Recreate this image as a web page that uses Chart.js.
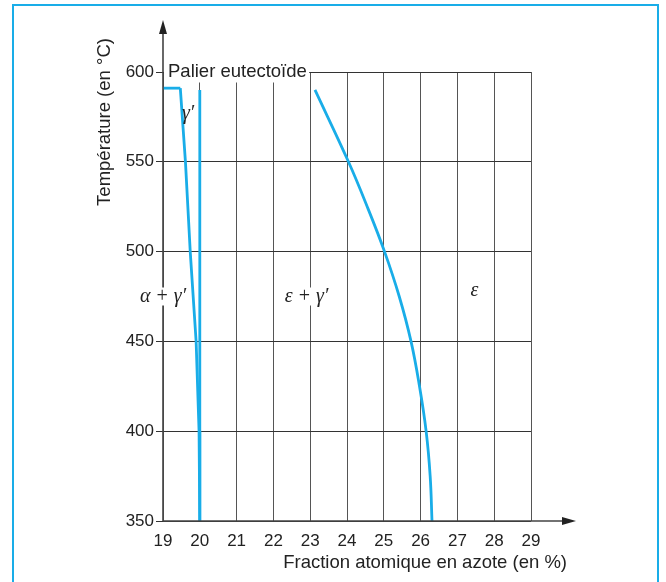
<!DOCTYPE html>
<html>
<head>
<meta charset="utf-8">
<script src="https://cdn.jsdelivr.net/npm/chart.js@4/dist/chart.umd.min.js"></script>
<style>
  html, body { margin: 0; padding: 0; background: #fff; }
  #wrap { position: relative; width: 666px; height: 582px; }
</style>
</head>
<body>
<div id="wrap"><canvas id="chart"></canvas></div>
<script>
// phase boundaries: x = fraction atomique N (%), y = temperature (°C)
const plateauX = [19, 19.47];
const plateauY = [591, 591];

const gammaLeftX = [19.47, 19.61, 19.74, 19.90, 19.98, 20.0];
const gammaLeftY = [591, 550, 500, 450, 400, 350];

const gammaRightX = [20.0, 20.0];
const gammaRightY = [590, 350];

const epsX = [23.13, 24.04, 24.55, 25.02, 25.42, 25.74, 25.97, 26.15, 26.26, 26.31];
const epsY = [590, 550, 525, 500, 475, 450, 425, 400, 375, 350];

const xTicks = [19, 20, 21, 22, 23, 24, 25, 26, 27, 28, 29];
const yTicks = [350, 400, 450, 500, 550, 600];

const BLUE = "#19ade8";
const SANS = '"Liberation Sans", Arial, sans-serif';

function pts(xs, ys) {
    return xs.map((x, i) => ({ x: x, y: ys[i] }));
}

function line(xs, ys, tension) {
    return {
        data: pts(xs, ys),
        showLine: true,
        borderColor: BLUE,
        borderWidth: 2.8,
        pointRadius: 0,
        tension: tension || 0,
        fill: false
    };
}

// region labels (data coords)
const regionLabels = [
    { text: "γ′", x: 19.68, y: 577, bg: false },
    { text: "α + γ′", x: 19.0, y: 475, bg: true },
    { text: "ε + γ′", x: 22.9, y: 475, bg: true },
    { text: "ε", x: 27.46, y: 478, bg: false }
];

const decor = {
    id: "decor",
    beforeDatasetsDraw(chart) {
        const ctx = chart.ctx;
        const a = chart.chartArea;
        const xs = chart.scales.x;
        // white box behind "Palier eutectoïde"
        ctx.save();
        ctx.fillStyle = "#fff";
        const x23 = xs.getPixelForValue(23);
        ctx.fillRect(a.left + 1, a.top - 14, x23 - a.left - 2, 24.5);
        ctx.fillStyle = "#222";
        ctx.font = "18.5px " + SANS;
        ctx.textBaseline = "middle";
        ctx.textAlign = "left";
        ctx.fillText("Palier eutectoïde", a.left + 5, a.top);
        ctx.restore();
    },
    afterDraw(chart) {
        const ctx = chart.ctx;
        const a = chart.chartArea;
        const xs = chart.scales.x;
        const ys = chart.scales.y;
        ctx.save();

        // frame
        ctx.strokeStyle = BLUE;
        ctx.lineWidth = 2;
        ctx.beginPath();
        ctx.moveTo(13, 600);
        ctx.lineTo(13, 5);
        ctx.lineTo(658, 5);
        ctx.lineTo(658, 600);
        ctx.stroke();

        // axes with arrows
        ctx.strokeStyle = "#444";
        ctx.fillStyle = "#222";
        ctx.lineWidth = 1.6;
        ctx.beginPath();
        ctx.moveTo(a.left, a.bottom);
        ctx.lineTo(a.left, 30);
        ctx.moveTo(a.left, a.bottom);
        ctx.lineTo(566, a.bottom);
        ctx.stroke();
        ctx.beginPath();
        ctx.moveTo(a.left, 20);
        ctx.lineTo(a.left - 4, 34);
        ctx.lineTo(a.left + 4, 34);
        ctx.closePath();
        ctx.fill();
        ctx.beginPath();
        ctx.moveTo(576, a.bottom);
        ctx.lineTo(562, a.bottom - 4);
        ctx.lineTo(562, a.bottom + 4);
        ctx.closePath();
        ctx.fill();

        // axis titles
        ctx.fillStyle = "#222";
        ctx.font = "18.5px " + SANS;
        ctx.textAlign = "right";
        ctx.textBaseline = "middle";
        ctx.fillText("Fraction atomique en azote (en %)", 567, 563);
        ctx.save();
        ctx.translate(105, 122);
        ctx.rotate(-Math.PI / 2);
        ctx.textAlign = "center";
        ctx.fillText("Température (en °C)", 0, 0);
        ctx.restore();

        // region labels
        ctx.font = 'italic 20px "Liberation Serif", "DejaVu Serif", serif';
        ctx.textAlign = "center";
        ctx.textBaseline = "middle";
        regionLabels.forEach(l => {
            const px = xs.getPixelForValue(l.x);
            const py = ys.getPixelForValue(l.y);
            if (l.bg) {
                const w = ctx.measureText(l.text).width;
                ctx.fillStyle = "#fff";
                ctx.fillRect(px - w / 2 - 2, py - 9, w + 4, 18);
            }
            ctx.fillStyle = "#222";
            ctx.fillText(l.text, px, py);
        });
        ctx.restore();
    }
};

new Chart(document.getElementById("chart"), {
    type: "scatter",
    data: {
        datasets: [
            line(plateauX, plateauY),
            line(gammaLeftX, gammaLeftY),
            line(gammaRightX, gammaRightY),
            line(epsX, epsY, 0.4)
        ]
    },
    options: {
        responsive: true,
        maintainAspectRatio: false,
        animation: false,
        events: [],
        layout: { padding: { left: 0, right: 135, top: 72, bottom: 0 } },
        plugins: { legend: { display: false }, tooltip: { enabled: false } },
        scales: {
            x: {
                type: "linear",
                min: 19,
                max: 29,
                afterFit: s => { s.height = 61; },
                afterBuildTicks: s => { s.ticks = xTicks.map(v => ({ value: v })); },
                border: { display: false },
                grid: { color: "#555", lineWidth: 1, drawTicks: false },
                ticks: {
                    color: "#222",
                    padding: 10,
                    maxRotation: 0,
                    font: { family: SANS, size: 17 }
                }
            },
            y: {
                type: "linear",
                min: 350,
                max: 600,
                afterFit: s => { s.width = 163; },
                afterBuildTicks: s => { s.ticks = yTicks.map(v => ({ value: v })); },
                border: { display: false },
                grid: { color: "#333", lineWidth: 1, tickLength: 7 },
                ticks: {
                    color: "#222",
                    padding: 2,
                    font: { family: SANS, size: 17 }
                }
            }
        }
    },
    plugins: [decor]
});
</script>
</body>
</html>
